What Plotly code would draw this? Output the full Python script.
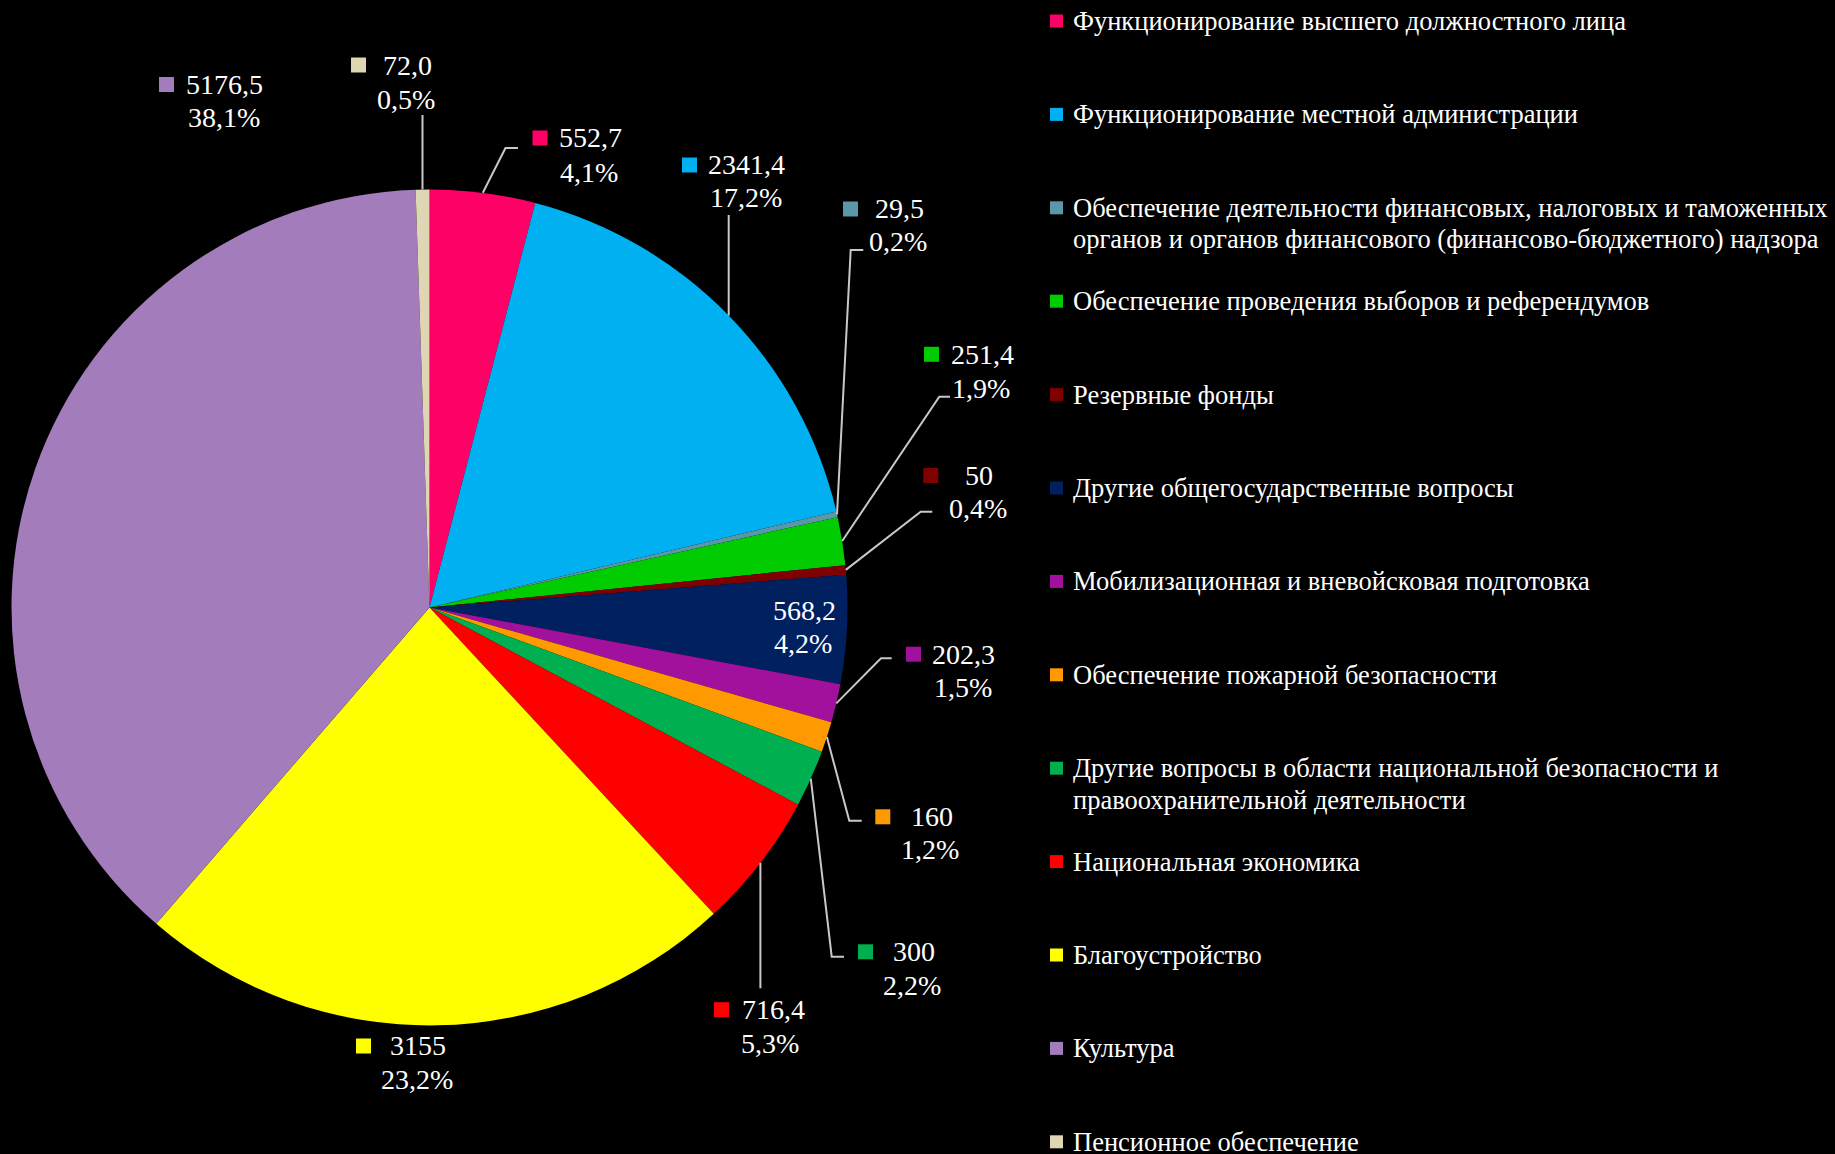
import math
import plotly.graph_objects as go

# ---------------- data ----------------
categories = [
    "Функционирование высшего должностного лица",
    "Функционирование местной администрации",
    "Обеспечение деятельности финансовых, налоговых и таможенных органов и органов финансового (финансово-бюджетного) надзора",
    "Обеспечение проведения выборов и референдумов",
    "Резервные фонды",
    "Другие общегосударственные вопросы",
    "Мобилизационная и вневойсковая подготовка",
    "Обеспечение пожарной безопасности",
    "Другие вопросы в области национальной безопасности и правоохранительной деятельности",
    "Национальная экономика",
    "Благоустройство",
    "Культура",
    "Пенсионное обеспечение",
]
values = [552.7, 2341.4, 29.5, 251.4, 50, 568.2, 202.3, 160, 300, 716.4, 3155, 5176.5, 72.0]
value_labels = ["552,7", "2341,4", "29,5", "251,4", "50", "568,2", "202,3", "160", "300", "716,4", "3155", "5176,5", "72,0"]
colors = ["#FF0066", "#00B0F0", "#5B97AB", "#00CC00", "#7F0000", "#002060", "#A2109E",
          "#FF9900", "#00B050", "#FF0000", "#FFFF00", "#A37DBB", "#DFD6B3"]

# ---------------- layout constants (pixels) ----------------
W, H = 1835, 1154
CX, CY, R = 429.5, 607.4, 418
FONT = "Liberation Serif"
LABEL_SIZE = 28
LEG_SIZE = 26.5
LINE_COL = "#C8C8C8"

# label placement per slice: (square_left, square_y, value_cx, value_y, pct_cx, pct_y)
label_pos = [
    (532.5, 138, 590.4, 137, 588.7, 172),
    (682, 165, 746.3, 164, 746.3, 197.5),
    (843, 209, 899, 208, 898, 241),
    (924, 354.3, 982.3, 354.5, 980.7, 388),
    (923.3, 475.5, 979, 475, 977.9, 508.5),
    (None, None, 804.8, 610.5, 803, 643),
    (906, 654.2, 963.3, 654, 962.7, 687.5),
    (875.3, 816.8, 931.7, 816.7, 930, 849.7),
    (858, 951.8, 913.7, 951.7, 912.3, 985),
    (714, 1009.7, 773, 1009, 770, 1043),
    (356, 1046, 417.8, 1045, 416.6, 1079),
    (159, 84.5, 224.7, 84, 224, 117),
    (351, 65, 407, 65, 406, 99),
]
# leader lines: list of (x, y) after the slice edge point; x None => vertical from edge
leaders = [
    [(505.5, 148), (518, 148)],
    [(None, 215)],
    [(850.7, 250), (863.3, 250)],
    [(939.3, 396.7), (950, 396.7)],
    [(920.7, 511.7), (932.3, 511.7)],
    None,
    [(881, 658.3), (891.7, 658.3)],
    [(849.3, 820.7), (861.7, 820.7)],
    [(831.7, 956.7), (844, 956.7)],
    [(None, 988.3)],
    None,
    None,
    [(None, 115)],
]
SQ = 15

total = sum(values)

fig = go.Figure()
fig.add_trace(go.Pie(
    labels=categories, values=values, sort=False, direction="clockwise", rotation=0,
    marker=dict(colors=colors, line=dict(width=0)),
    textinfo="none", showlegend=False,
    domain=dict(x=[(CX - R) / W, (CX + R) / W],
                y=[(H - CY - R) / H, (H - CY + R) / H]),
    hovertemplate="%{label}<br>%{value}<br>%{percent}<extra></extra>",
))

shapes = []
annotations = []

cum = 0.0
for i, v in enumerate(values):
    mid = (cum + v / 2) / total * 2 * math.pi
    cum += v
    ex = CX + R * math.sin(mid)
    ey = CY - R * math.cos(mid)
    pct = v / total * 100
    pct_txt = f"{pct:.1f}".replace(".", ",") + "%"
    sqx, sqy, vx, vy, px, py = label_pos[i]
    if leaders[i]:
        pts = [(ex, ey)]
        for (lx, ly) in leaders[i]:
            pts.append((ex if lx is None else lx, ly))
        path = "M " + " L ".join(f"{x:.1f},{y:.1f}" for x, y in pts)
        shapes.append(dict(type="path", path=path, xref="x", yref="y",
                           line=dict(color=LINE_COL, width=2)))
    if sqx is not None:
        shapes.append(dict(type="rect", xref="x", yref="y", x0=sqx, x1=sqx + SQ,
                           y0=sqy - SQ / 2, y1=sqy + SQ / 2,
                           fillcolor=colors[i], line=dict(width=0)))
    annotations.append(dict(x=vx, y=vy, xref="x", yref="y", text=value_labels[i],
                            showarrow=False, xanchor="center", yanchor="middle",
                            font=dict(family=FONT, size=LABEL_SIZE, color="white")))
    annotations.append(dict(x=px, y=py, xref="x", yref="y", text=pct_txt,
                            showarrow=False, xanchor="center", yanchor="middle",
                            font=dict(family=FONT, size=LABEL_SIZE, color="white")))

# manual legend
LEG_X_SQ = 1050
LEG_X_TXT = 1071
LEG_Y0 = 21
LEG_STEP = 93.4
LEG_LINE = 31.6
LEG_SQ = 13
legend_break = {2: 6, 8: 7}
for i, name in enumerate(categories):
    y = LEG_Y0 + LEG_STEP * i
    shapes.append(dict(type="rect", xref="x", yref="y", x0=LEG_X_SQ, x1=LEG_X_SQ + LEG_SQ,
                       y0=y - LEG_SQ / 2, y1=y + LEG_SQ / 2,
                       fillcolor=colors[i], line=dict(width=0)))
    words = name.split(" ")
    if i in legend_break:
        lines = [" ".join(words[:legend_break[i]]), " ".join(words[legend_break[i]:])]
    else:
        lines = [name]
    for k, ln in enumerate(lines):
        annotations.append(dict(x=LEG_X_TXT, y=y + k * LEG_LINE, xref="x", yref="y", text=ln,
                                showarrow=False, xanchor="left", yanchor="middle",
                                font=dict(family=FONT, size=LEG_SIZE, color="white")))

fig.update_layout(
    width=W, height=H,
    margin=dict(l=0, r=0, t=0, b=0),
    paper_bgcolor="black", plot_bgcolor="black",
    xaxis=dict(range=[0, W], visible=False, fixedrange=True, domain=[0, 1]),
    yaxis=dict(range=[H, 0], visible=False, fixedrange=True, domain=[0, 1]),
    shapes=shapes, annotations=annotations,
    showlegend=False,
)

fig.write_html("out.html",
               config={"displayModeBar": False},
               post_script="document.body.style.margin='0';document.body.style.background='black';document.body.style.overflow='hidden';")
